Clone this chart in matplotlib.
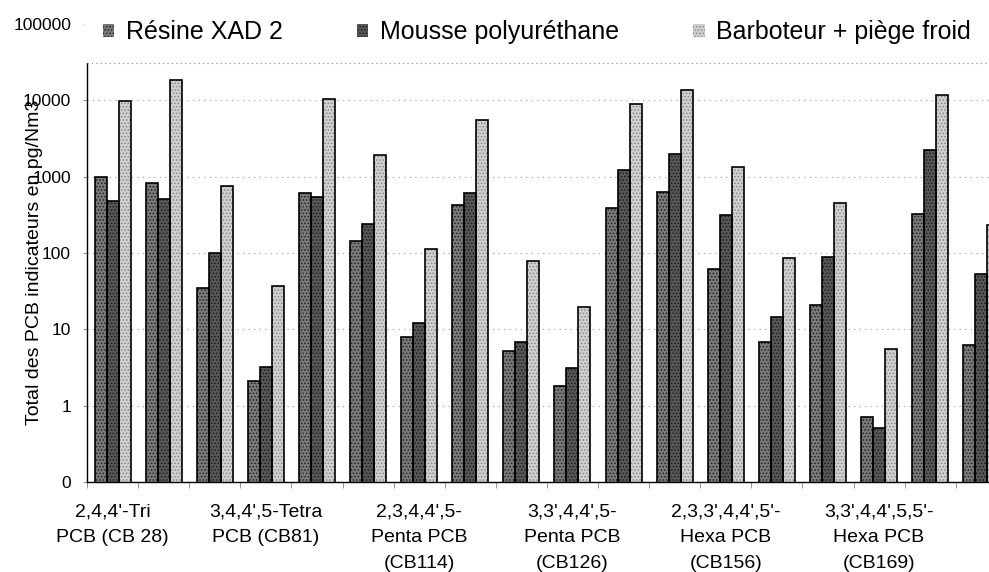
import numpy as np
import matplotlib
matplotlib.use("Agg")
import matplotlib.pyplot as plt
from matplotlib.ticker import FixedLocator, FuncFormatter

plt.rcParams['font.family'] = ['Liberation Sans', 'DejaVu Sans']
plt.rcParams['hatch.linewidth'] = 0.7

# congeners, each one measured on 3 samples (3 clusters of bars)
congeners = ["2,4,4'-Tri\nPCB (CB 28)",
             "3,4,4',5-Tetra\nPCB (CB81)",
             "2,3,4,4',5-\nPenta PCB\n(CB114)",
             "3,3',4,4',5-\nPenta PCB\n(CB126)",
             "2,3,3',4,4',5'-\nHexa PCB\n(CB156)",
             "3,3',4,4',5,5'-\nHexa PCB\n(CB169)"]
n_per = 3

series = ["Résine XAD 2", "Mousse polyuréthane", "Barboteur + piège froid"]
xad = [990, 830, 35, 2.1, 610, 145, 7.9, 430, 5.3, 1.8, 395, 640,
       62, 6.8, 21, 0.72, 330, 6.2]
mousse = [480, 510, 100, 3.2, 550, 240, 12.2, 610, 6.9, 3.1, 1230, 1990,
          316, 14.5, 88, 0.51, 2220, 54]
barbot = [9800, 18300, 760, 37, 10400, 1910, 112, 5460, 78, 19.6, 8900, 13500,
          1340, 85, 449, 5.6, 11900, 234]

faces = ['#7a7a7a', '#585858', '#d0d0d0']
dots = ['#222222', '#1a1a1a', '#888888']

fig = plt.figure(figsize=(9.89, 5.72), dpi=100)
ax = fig.add_axes([0.088, 0.157, 0.930, 0.801])

x = np.arange(len(xad))
w = 0.235
for i, vals in enumerate([xad, mousse, barbot]):
    pos = x + (i - 1) * w
    ax.bar(pos, vals, w, color=faces[i], edgecolor=dots[i],
           hatch='.....', linewidth=0, label=series[i], zorder=2)
    ax.bar(pos, vals, w, fill=False, edgecolor='black',
           linewidth=1.2, zorder=3)

ax.set_yscale('log')
ax.set_ylim(0.1, 100000)
ax.set_xlim(-0.5, len(xad) - 0.5)

ax.yaxis.set_major_locator(FixedLocator([0.1, 1, 10, 100, 1000, 10000, 100000]))
ax.yaxis.set_major_formatter(FuncFormatter(lambda v, p: "%.0f" % v))
ax.yaxis.set_minor_locator(FixedLocator([]))
ax.tick_params(axis='y', labelsize=12.5, length=3, width=0.6, color='#777777', pad=8.5)
ax.grid(axis='y', which='major', color='#9a9a9a', linestyle=(0, (1, 4)), linewidth=0.8, zorder=0)

ax.set_xticks(x[::n_per])
ax.set_xticklabels(congeners, fontsize=14, linespacing=1.7, va='top')
ax.set_xticks(np.arange(-0.5, len(xad), 1), minor=True)
ax.tick_params(axis='x', which='major', length=0, pad=15)
ax.tick_params(axis='x', which='minor', length=4, width=0.6, color='#888888')

ax.set_ylabel("Total des PCB indicateurs en pg/Nm3", fontsize=14)
ax.yaxis.set_label_coords(-0.048, 0.48)

for s in ['top', 'right']:
    ax.spines[s].set_visible(False)
ax.spines['left'].set_linewidth(1.0)
ax.spines['bottom'].set_linewidth(1.0)

# legend sits on top of the plot area, white box hiding its upper part
leg_y = 0.915
leg = ax.legend(loc='lower left', bbox_to_anchor=(-0.003, leg_y, 0.984, 0.17), mode='expand',
                ncol=3, fontsize=18, frameon=True, fancybox=False, borderaxespad=0,
                handlelength=0.45, handleheight=0.45, handletextpad=0.45,
                borderpad=0.75)
fr = leg.get_frame()
fr.set_facecolor('white')
fr.set_alpha(1)
fr.set_edgecolor('none')
leg.set_zorder(10)
ax.plot([0, 1], [leg_y, leg_y], transform=ax.transAxes, color='#888888',
        linestyle=(0, (1, 3)), linewidth=0.8, clip_on=False, zorder=11)

fig.savefig("out.png", dpi=100)
